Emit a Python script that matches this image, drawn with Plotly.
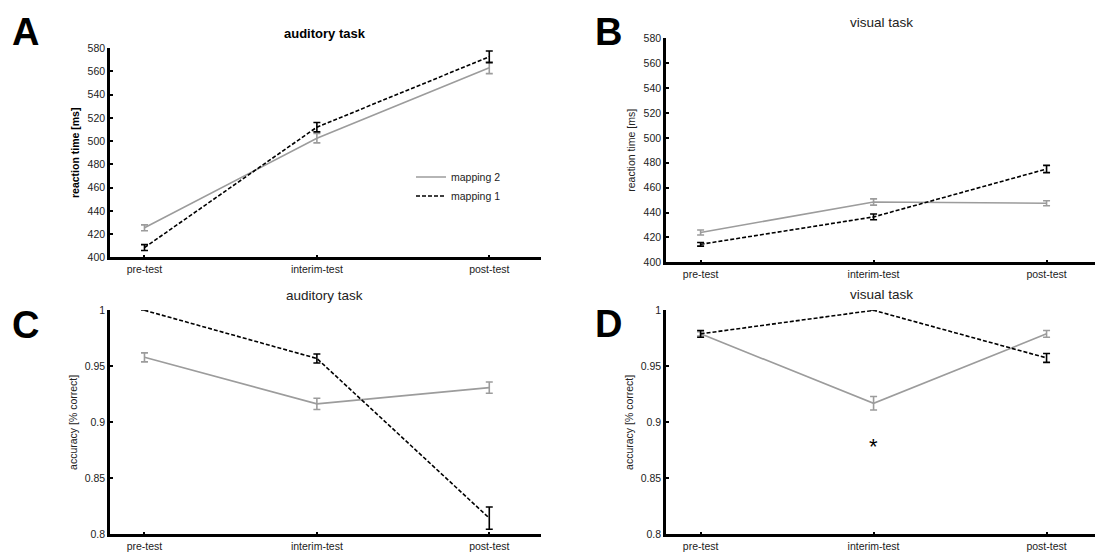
import plotly.graph_objects as go

# Sessions on the x axis
sessions = ["pre-test", "interim-test", "post-test"]
session_pos = [1, 2, 3]

# Auditory task: reaction time [ms]
aud_rt_m2 = [425.5, 502.5, 563.0]
aud_rt_m2_err = [2.5, 4.0, 5.0]
aud_rt_m1 = [408.5, 512.0, 572.5]
aud_rt_m1_err = [2.5, 4.0, 5.0]

# Visual task: reaction time [ms]
vis_rt_m2 = [424.0, 448.5, 447.5]
vis_rt_m2_err = [2.0, 2.5, 2.0]
vis_rt_m1 = [414.5, 436.5, 475.0]
vis_rt_m1_err = [1.5, 2.3, 2.9]

# Auditory task: accuracy
aud_acc_m2 = [0.958, 0.9165, 0.931]
aud_acc_m2_err = [0.004, 0.005, 0.005]
aud_acc_m1 = [1.0, 0.957, 0.8145]
aud_acc_m1_err = [0.0, 0.004, 0.0099]

# Visual task: accuracy
vis_acc_m2 = [0.979, 0.917, 0.979]
vis_acc_m2_err = [0.002, 0.006, 0.003]
vis_acc_m1 = [0.979, 1.0, 0.9575]
vis_acc_m1_err = [0.003, 0.0, 0.004]

rt_ticks = list(range(400, 581, 20))
acc_ticks = [0.8, 0.85, 0.9, 0.95, 1.0]
acc_ticktext = ["0.8", "0.85", "0.9", "0.95", "1"]

GRAY = "#9c9c9c"
BLACK = "#000000"
LABEL = "#222222"
FONT = "Liberation Sans, Arial, sans-serif"
W, H = 1095, 557

fig = go.Figure()


def add_pair(xa, ya, m2, m2e, m1, m1e, legend):
    fig.add_trace(go.Scatter(
        x=session_pos, y=m2, xaxis=xa, yaxis=ya, mode="lines",
        name="mapping 2", showlegend=legend, cliponaxis=False,
        line=dict(color=GRAY, width=1.6),
        error_y=dict(type="data", array=m2e, visible=True,
                     color=GRAY, thickness=1.6, width=3.5),
    ))
    fig.add_trace(go.Scatter(
        x=session_pos, y=m1, xaxis=xa, yaxis=ya, mode="lines",
        name="mapping 1", showlegend=legend, cliponaxis=False,
        line=dict(color=BLACK, width=1.6, dash="4px,2px"),
        error_y=dict(type="data", array=m1e, visible=True,
                     color=BLACK, thickness=1.6, width=3.5),
    ))


add_pair("x", "y", aud_rt_m2, aud_rt_m2_err, aud_rt_m1, aud_rt_m1_err, True)
add_pair("x2", "y2", vis_rt_m2, vis_rt_m2_err, vis_rt_m1, vis_rt_m1_err, False)
add_pair("x3", "y3", aud_acc_m2, aud_acc_m2_err, aud_acc_m1, aud_acc_m1_err, False)
add_pair("x4", "y4", vis_acc_m2, vis_acc_m2_err, vis_acc_m1, vis_acc_m1_err, False)


def px_x(a, b):
    return [a / W, min(b / W, 1.0)]


def px_y(top, bottom):
    return [1 - bottom / H, 1 - top / H]


axis_common = dict(
    showline=True, linecolor=BLACK, linewidth=2.5, mirror=False,
    ticks="inside", ticklen=3, tickwidth=2, tickcolor=BLACK,
    showgrid=False, zeroline=False,
    tickfont=dict(family=FONT, size=10.5, color=LABEL),
)

xcommon = dict(axis_common, tickvals=session_pos, ticktext=sessions)

fig.update_layout(
    xaxis=dict(xcommon, domain=px_x(110, 541), range=[0.8, 3.3], anchor="y"),
    yaxis=dict(axis_common, domain=px_y(43, 257), range=[400, 580],
               tickvals=rt_ticks, anchor="x",
               title=dict(text="<b>reaction time [ms]</b>",
                          font=dict(family=FONT, size=10.5, color=BLACK),
                          standoff=6)),
    xaxis2=dict(xcommon, domain=px_x(666, 1095), range=[0.8, 3.28], anchor="y2"),
    yaxis2=dict(axis_common, domain=px_y(33, 262), range=[400, 580],
                tickvals=rt_ticks, anchor="x2",
                title=dict(text="reaction time [ms]",
                           font=dict(family=FONT, size=10.5, color=LABEL),
                           standoff=6)),
    xaxis3=dict(xcommon, domain=px_x(110, 541), range=[0.8, 3.3], anchor="y3"),
    yaxis3=dict(axis_common, domain=px_y(311, 540), range=[0.8, 1.0],
                tickvals=acc_ticks, ticktext=acc_ticktext, anchor="x3",
                title=dict(text="accuracy [% correct]",
                           font=dict(family=FONT, size=10.5, color=LABEL),
                           standoff=6)),
    xaxis4=dict(xcommon, domain=px_x(666, 1095), range=[0.8, 3.28], anchor="y4"),
    yaxis4=dict(axis_common, domain=px_y(311, 540), range=[0.8, 1.0],
                tickvals=acc_ticks, ticktext=acc_ticktext, anchor="x4",
                title=dict(text="accuracy [% correct]",
                           font=dict(family=FONT, size=10.5, color=LABEL),
                           standoff=6)),
    width=W, height=H,
    margin=dict(l=0, r=0, t=0, b=0),
    paper_bgcolor="white", plot_bgcolor="white",
    showlegend=True,
    legend=dict(x=411 / W, y=1 - 160 / H, xanchor="left", yanchor="top",
                bgcolor="rgba(0,0,0,0)", borderwidth=0,
                font=dict(family=FONT, size=10.5, color=LABEL),
                tracegroupgap=0, itemwidth=30),
)

# Panel titles
titles = [
    ("<b>auditory task</b>", 325, 28, 13, BLACK),
    ("visual task", 881, 17, 13.5, LABEL),
    ("auditory task", 324, 296, 13.5, LABEL),
    ("visual task", 881, 295, 13.5, LABEL),
]
for text, cx, cy, size, color in titles:
    fig.add_annotation(text=text, x=cx / W, y=1 - cy / H, xref="paper", yref="paper",
                       xanchor="center", yanchor="middle", showarrow=False,
                       font=dict(family=FONT, size=size, color=color))

# Panel letters
letters = [("A", 25, 27), ("B", 608, 27), ("C", 25, 326), ("D", 608, 325)]
for text, cx, cy in letters:
    fig.add_annotation(text="<b>%s</b>" % text, x=cx / W, y=1 - cy / H,
                       xref="paper", yref="paper", xanchor="center", yanchor="middle",
                       showarrow=False, font=dict(family=FONT, size=38, color=BLACK))

# Significance marker at the interim-test session of the visual accuracy panel
fig.add_annotation(text="*", x=session_pos[1], y=0.878, xref="x4", yref="y4",
                   xanchor="center", yanchor="middle", showarrow=False,
                   font=dict(family=FONT, size=22, color=BLACK))

fig.write_html("out.html")
